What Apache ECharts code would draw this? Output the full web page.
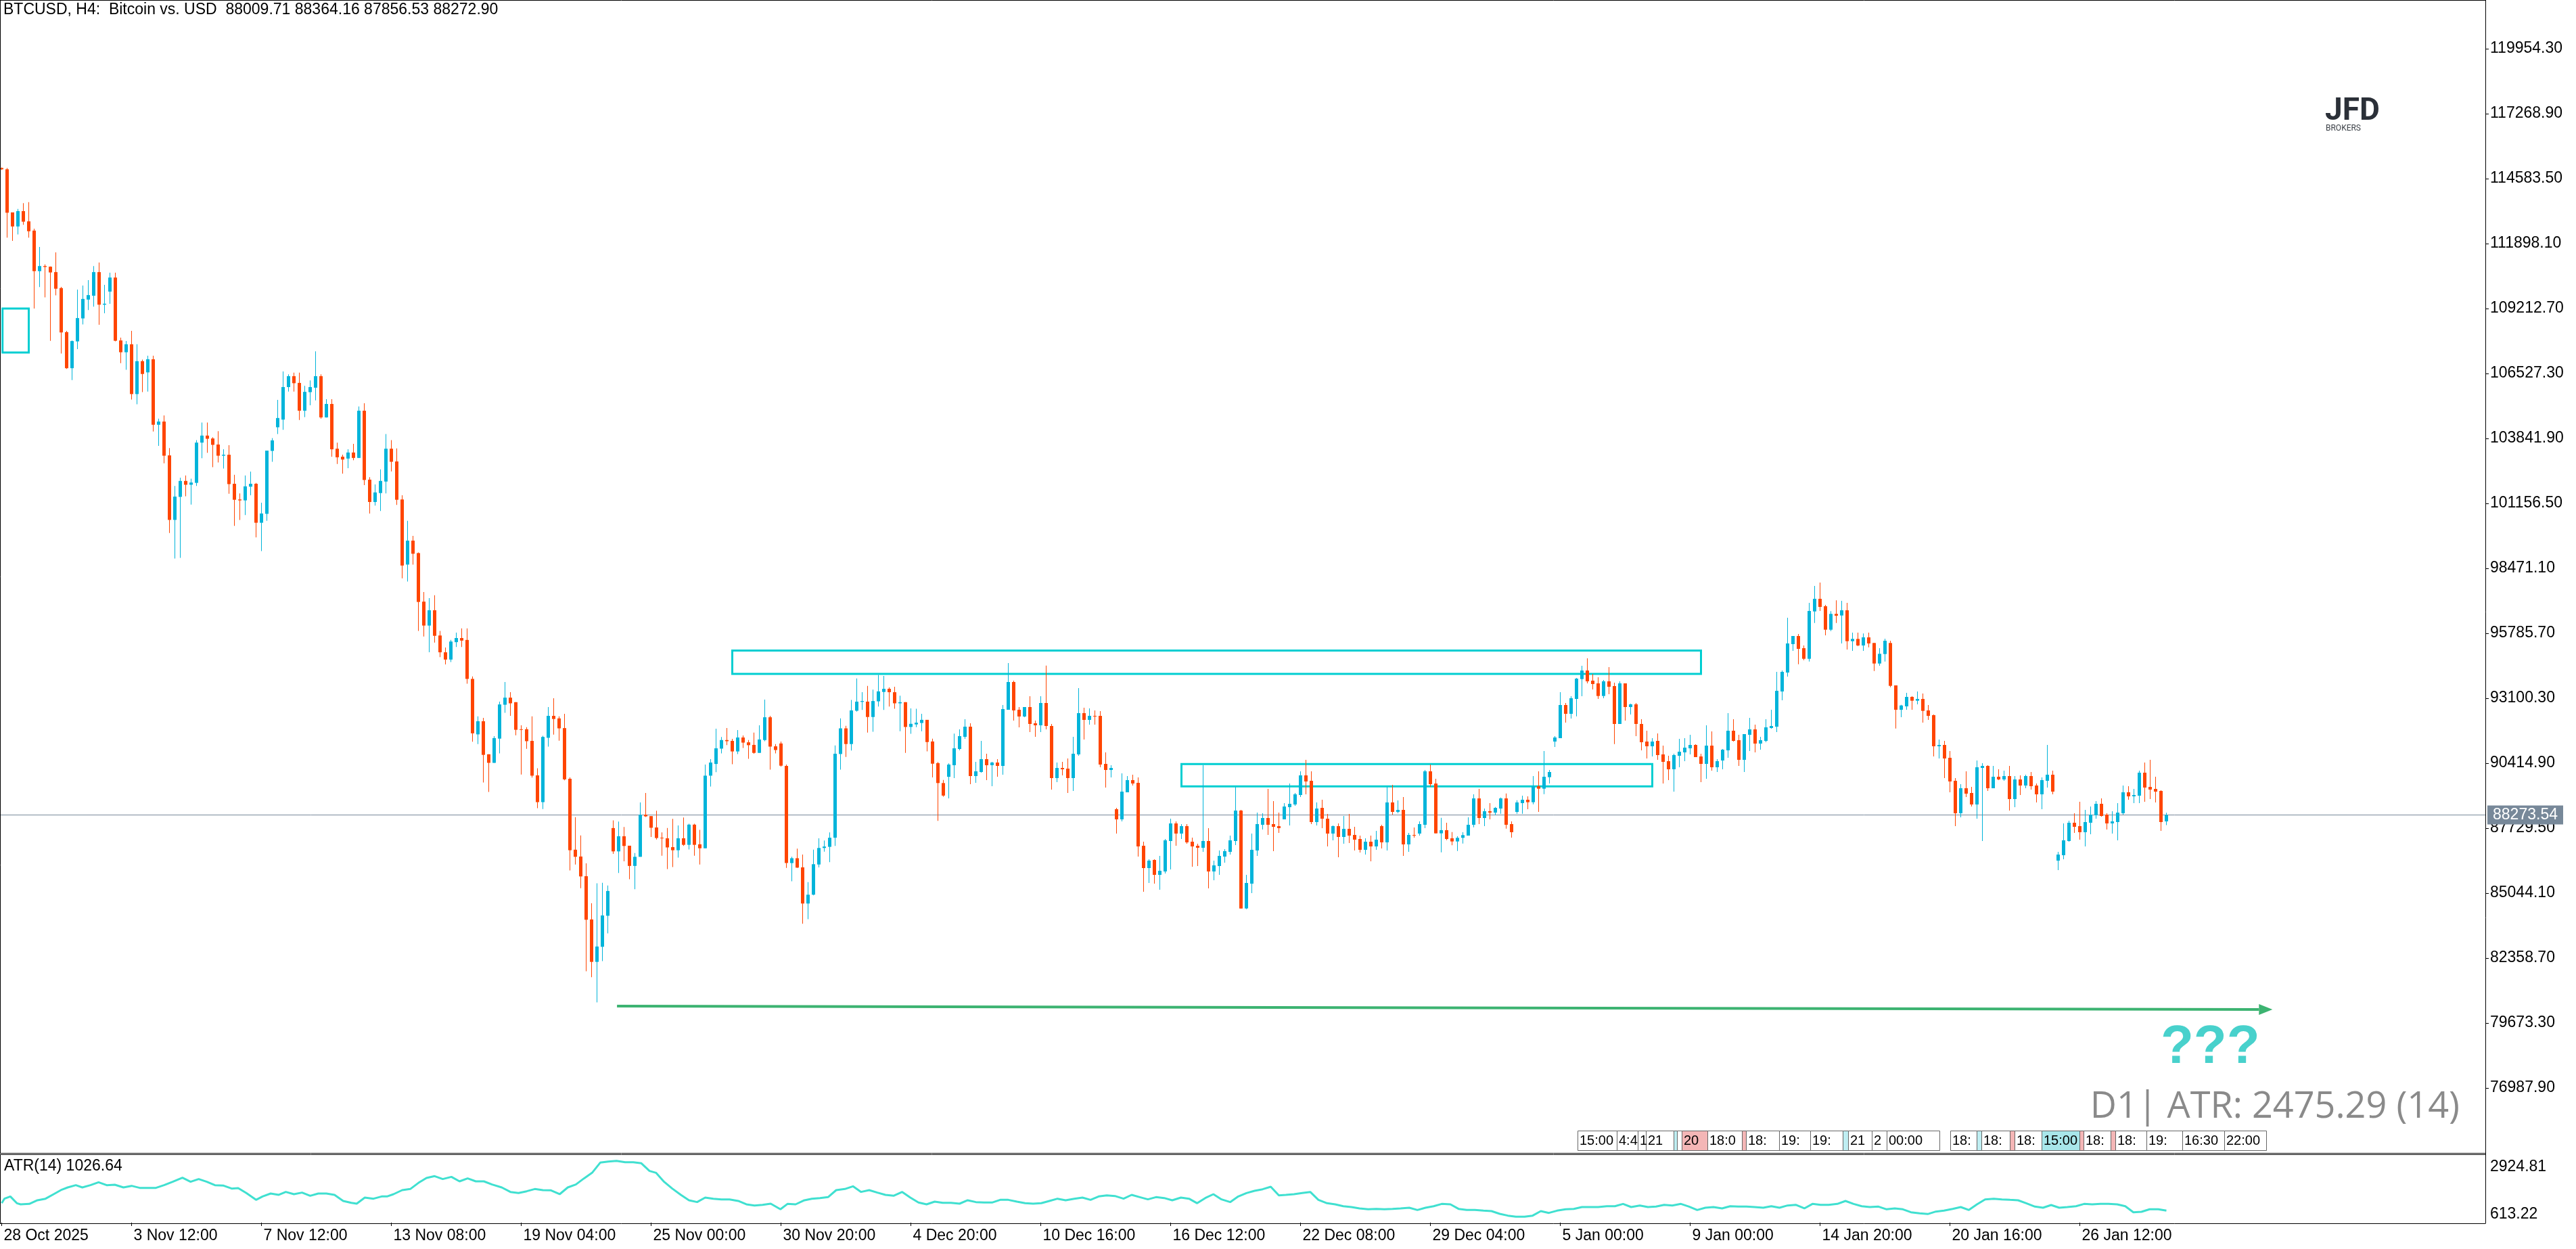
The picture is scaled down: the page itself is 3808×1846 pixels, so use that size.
<!DOCTYPE html>
<html><head><meta charset="utf-8">
<script src="https://cdn.jsdelivr.net/npm/echarts@6.0.0/dist/echarts.min.js"></script>
<style>html,body{margin:0;padding:0;background:#fff;overflow:hidden}#chart{width:3808px;height:1846px}</style>
</head><body><div id="chart"></div>
<script>
// ---------------- DATA ----------------
const O=[115022,114969,113187,112606,113240,112817,112435,110758,110969,110943,
110719,110059,108237,106745,107854,108804,109583,109742,110719,109372,
109913,110494,107893,107405,107735,105676,107036,106573,107115,104408,
104540,103141,100474,101425,102085,101927,102006,103669,103960,103841,
103590,103128,103168,101967,101319,101280,101847,101967,100356,100725,
103326,104303,104620,105966,106415,106138,104989,105755,105940,106415,
104712,105267,103418,103088,103009,103260,103036,104989,102138,101214,
101584,102059,103418,102890,101319,98627,99617,99102,97095,96105,
96739,95695,95000,94700,95419,95590,95511,93900,91607,92149,
90783,90430,91431,92832,93126,92938,91819,91819,91337,89912,
88805,91466,92373,92267,91866,89771,86839,86557,85744,83955,
82201,82825,84108,87734,86769,87393,87004,86168,86545,88287,
88228,87758,87334,87310,86945,86816,87310,87040,87875,87063,
86898,89900,90383,91018,91372,91337,90901,91478,91278,91172,
90842,91372,92314,91113,91231,90301,86286,86486,86109,84614,
84979,86227,86910,86957,87334,90795,91855,91207,92584,92949,
92961,92325,92973,93361,93491,93350,92891,92938,91913,92019,
92078,92208,91313,90418,89594,89853,90331,91002,91506,91925,
89883,90051,90583,90331,90443,90303,92625,93772,92625,92345,
92737,92065,91981,92905,91953,89800,90219,90191,89800,90779,
92485,92205,92373,92373,90387,90135,88513,88093,89212,89716,
89604,87002,86079,86415,85800,85939,87198,87925,87506,87814,
87170,87002,86918,87198,85939,86163,86555,86751,87198,88457,
84410,85436,86807,87870,88149,87898,87814,88093,88597,88709,
89100,89911,89688,87981,88569,88121,87506,87814,87366,87702,
87450,87282,86835,87170,86974,87814,87142,88793,88401,88485,
87058,87450,87506,87870,90079,89576,87515,87646,87310,87180,
87329,87422,87870,88960,88149,88429,88373,88541,88960,87898,
88401,88765,88905,88802,89464,89361,89837,91310,91450,92821,
92457,93072,93893,94247,93828,93716,93194,93800,93604,92037,
93716,92737,92849,92037,91310,91114,91338,90779,90499,90163,
90723,90863,91030,91170,90695,90387,91142,90247,90527,90947,
91758,91366,90555,91590,91814,91226,91338,91870,91926,93380,
94163,95338,95674,95170,94732,96690,97212,96905,95935,96588,
96522,96737,95459,95553,95282,95618,95385,94536,94928,95385,
93632,92625,92765,93156,92998,93072,92597,92401,91114,91170,
90639,89688,88345,89380,89184,88709,90219,90303,89380,89856,
89744,89884,88933,89744,89492,89884,89492,89128,89688,89940,
86387,86611,87198,87954,87814,87562,87954,88261,88737,88289,
87926,87981,88345,89212,89044,89072,90023,89436,89352,89268,
88009.71];
const H=[115048,115022,113187,113332,113570,113610,112514,111761,111035,110956,
111537,110111,108290,107893,109993,110164,110389,110969,111115,110191,
110692,110692,108012,107867,108290,107735,107102,107260,107260,104659,
104791,103445,101874,102217,102310,102178,103775,104501,104501,103894,
104144,103392,103564,102336,101570,102310,102468,102006,101187,103339,
103854,105438,106613,106494,106560,106560,106019,106243,107445,106494,
105465,105465,103669,103168,103392,103617,105161,105293,102243,101940,
102560,104026,103775,103432,101491,100435,99815,99128,97491,97241,
97359,95881,95200,95511,95814,95986,95986,94000,92349,92290,
90783,91537,92961,93774,93350,92938,91984,91902,92349,90206,
91548,92738,93103,92349,92455,89830,88181,87428,86274,84626,
85450,85473,85356,88052,88005,87781,87004,86698,88794,89182,
88228,88452,87557,87734,88111,87840,88170,87911,87911,87663,
90359,90583,91843,91501,91866,91419,91784,91560,91372,91678,
91984,93044,92373,91207,91313,90359,86545,86886,86639,85497,
86839,87310,87216,87557,91148,92267,91961,93032,93915,93350,
93609,93456,94068,94021,93550,93573,93208,92938,92679,92667,
92455,92208,91431,90465,89724,90407,91636,91814,92233,92065,
90471,91338,90807,90471,90583,92821,94555,93828,92737,92737,
93184,92177,93184,94452,92037,90443,90471,90611,91506,93520,
92709,92681,92597,92569,90863,90331,88569,89995,89883,89939,
89828,87170,86443,86443,86583,87282,88121,88009,87898,87898,
87338,87086,90331,87730,86387,86807,86863,87422,89436,88485,
85800,87506,88373,88345,89352,88849,88373,88765,89576,89184,
90079,90555,90079,88793,88904,88317,87842,87925,88233,88317,
87786,87422,87310,87422,87618,87870,89436,89520,88877,89016,
87534,87758,88009,90135,90359,89772,88159,87954,87571,87394,
87562,88177,89128,89352,88541,88765,88606,88998,89166,88008,
88886,89072,89044,89884,90079,90919,90135,91534,93352,92905,
93184,93940,94443,94751,94107,93968,93856,94387,93744,93800,
93716,92877,92905,92233,91758,91450,91646,91142,90723,90807,
91422,91450,91590,91198,90807,91981,91730,90583,91002,92485,
92233,91590,91618,92289,92009,91506,92233,92625,94191,94247,
96429,95674,95758,95282,97044,97744,97884,96961,96699,97147,
97128,97044,95814,95814,95776,95814,95385,95170,95562,95478,
93632,92830,93324,93184,93380,93296,92821,92429,91394,91338,
90919,89800,89548,90079,89436,90527,90415,90331,90303,90163,
90107,90303,89884,89912,89940,90051,89576,89828,91170,90107,
86751,87926,88037,88345,88821,88485,88625,88849,88960,88345,
88429,88765,89492,89464,89352,90107,90443,90555,89856,89296,
88364.16];
const L=[114943,112144,112012,112276,112672,112144,109214,110098,109676,107880,
109755,107352,106719,106257,107537,108554,109148,109293,108540,109016,
109412,107854,106956,106679,105452,105253,105755,105781,104131,103537,
102811,99933,98877,98904,101452,101108,101874,103022,103247,102653,
102851,102600,101557,100224,100474,100672,101491,99749,99181,100435,
102877,104026,104197,105781,105781,104606,104725,105214,105412,104659,
104699,103088,102784,102389,102613,102943,103036,101913,100739,101069,
100844,101570,102481,101095,98059,97927,98627,95881,95656,95000,
95400,94800,94500,94600,95221,95221,93700,91300,91207,89618,
89229,90430,90819,92502,92373,91572,89947,91007,89818,88558,
88523,91101,91596,91348,89712,85980,86227,85250,81812,81565,
80529,82236,83378,86663,85874,86357,85615,85203,86545,88193,
87369,87263,86592,86039,86121,86510,86992,86851,86592,86227,
86898,89453,90042,90819,91160,90371,90795,91042,90595,90807,
90842,91325,90148,90819,90277,86086,85532,86086,83778,83967,
84956,86109,86757,86321,86992,90148,90677,90936,92549,92620,
91678,91713,92761,92620,92761,92667,91737,90842,91631,91902,
91737,90901,89830,88028,89029,88958,89800,90946,91422,89548,
89604,90023,89716,89464,89855,89939,92625,92177,91897,92317,
91702,91506,91702,91814,89324,89632,89911,89184,89268,90723,
91394,92009,92009,90247,89408,89828,87506,88009,89212,89492,
86555,85100,85464,85436,85184,85856,86023,87002,87282,87086,
86135,86163,86751,85240,85576,85800,86303,86639,87030,84410,
84382,85044,86583,87674,87450,86779,87534,88093,87842,88653,
89016,89128,87898,87842,87730,86974,87226,86527,87086,87114,
86807,86723,86639,86359,86835,86891,86807,88289,88345,86583,
86751,87338,87422,87730,89436,87515,86732,87236,87021,86788,
87096,87422,87767,87898,87814,88093,88261,88326,87711,87338,
88326,88326,88513,88718,88401,89138,89576,91086,91450,92093,
92261,92354,93184,93716,93464,93072,93100,93268,91208,92037,
92177,92429,91534,90947,90611,90695,90555,89576,89716,89240,
90247,90499,90779,90667,89632,89772,90107,90051,90163,90639,
91310,90303,90051,90919,90863,90975,91282,91842,91702,93016,
93995,95058,94508,94676,94620,96215,96709,95702,95879,96215,
95366,95114,95058,95254,95058,95208,94229,94443,94620,93557,
91851,92317,92625,92625,92849,92093,92205,90695,90611,89800,
89212,87814,88177,89016,88625,88121,87198,89268,89380,89716,
89688,88457,88597,89100,89380,89324,88793,88513,89408,89128,
85995,86443,87170,87534,87254,86975,87478,88121,88205,87674,
87506,87226,88289,88905,88765,88765,88821,88933,88793,87618,
87856.53];
const C=[114969,113174,112606,113240,112804,112408,110758,110969,110930,110705,
110032,108224,106745,107867,108818,109610,109768,110719,109372,109412,
110494,107880,107405,107735,105676,107036,106507,107115,104408,104540,
103128,100474,101438,102085,101927,102019,103669,103960,103828,103577,
103128,103168,101953,101306,101280,101861,101967,100356,100739,103339,
103762,104686,105966,106415,106125,104989,105768,105966,106415,104712,
105267,103392,103062,102969,103260,103036,104989,102125,101214,101610,
102085,103418,102877,101306,98587,99617,99075,97082,96105,96739,
95682,95000,94700,95445,95590,95484,93900,91650,92149,90760,
90430,91454,92844,93126,92891,91796,91796,91325,89900,88805,
91501,92373,92243,91855,89747,86816,86545,85733,83943,82201,
82836,84120,85132,86769,87393,86992,86168,86545,88287,88217,
87746,87322,87310,86933,86816,87310,87040,87875,87040,86898,
89900,90442,91030,91372,91325,90901,91478,91266,91160,90842,
91395,92314,91101,90960,90312,86286,86486,86098,84614,84979,
86239,86910,86969,87334,90807,91855,91207,92596,92961,92985,
92325,92985,93385,93491,93350,92891,92938,91913,92043,92090,
92208,91289,90395,89594,89076,90359,91030,91534,91925,89883,
90079,90583,90331,90443,90303,92653,93772,92597,92345,92737,
92037,91981,92905,91953,89800,90219,90163,89800,90807,92485,
92205,92373,92345,90359,90135,90219,88093,89240,89716,89576,
86974,86079,86387,85800,85967,87226,87925,87506,87814,87142,
86974,86918,87198,85939,86191,86583,86779,87226,88457,84410,
85464,86835,87898,88149,87870,87786,87730,88625,88737,89128,
89911,89660,87981,88541,88121,87506,87814,87366,87702,87422,
87254,86835,87170,86974,87254,87142,88793,88401,88485,87058,
87450,87422,87898,90079,89548,87515,87646,87282,87180,87329,
87441,87870,88960,88149,88429,88373,88569,88960,87870,87562,
88793,88905,88802,89464,89361,89856,90051,91478,92821,92457,
93100,93912,94247,93800,93688,93194,93800,93576,92037,93716,
92737,92849,92037,91282,91114,91310,90751,90471,90163,90751,
90891,91058,91170,90667,90387,91142,90247,90499,90975,91758,
91338,90555,91618,91814,91226,91366,91898,91954,93408,94191,
95366,95674,95142,94732,96709,97212,96877,95935,96588,96513,
96737,95459,95553,95282,95618,95366,94536,94937,95478,93613,
92625,92802,93156,92998,93072,92578,92373,91114,91170,90611,
89660,88345,89380,89156,88709,90247,90303,89380,89856,89744,
89884,88933,89744,89492,89884,89464,89128,89716,89940,89240,
86639,87226,87954,87786,87562,87981,88289,88737,88233,87926,
88009,88373,89212,89044,89100,90023,89408,89324,89240,87981,
88272.90];

const xTickBars=[0,24,48,72,96,120,144,168,192,216,240,264,288,312,336,360,384];
const xTickLabels=['28 Oct 2025','3 Nov 12:00','7 Nov 12:00','13 Nov 08:00','19 Nov 04:00','25 Nov 00:00','30 Nov 20:00','4 Dec 20:00','10 Dec 16:00','16 Dec 12:00','22 Dec 08:00','29 Dec 04:00','5 Jan 00:00','9 Jan 00:00','14 Jan 20:00','20 Jan 16:00','26 Jan 12:00'];
const yTickValues=[76987.90,79673.30,82358.70,85044.10,87729.50,90414.90,93100.30,95785.70,98471.10,101156.50,103841.90,106527.30,109212.70,111898.10,114583.50,117268.90,119954.30];
const atrScaleLabels=[2924.81,613.22];

const atrBar=[0,0.5,1.6,2.8,3.5,5.1,6.6,8.1,9.6,11.1,12.2,13.7,14.9,16.4,17.9,19.4,20.9,22.5,24.0,25.5,27.0,28.5,30.0,31.6,33.4,34.9,36.4,37.9,39.4,41.0,42.5,43.7,45.2,47.0,48.2,49.7,51.2,52.5,54.0,55.5,57.0,58.5,60.0,61.5,63.1,64.6,65.6,67.1,68.7,70.2,71.2,72.4,74.0,75.5,77.0,78.5,80.0,81.5,83.1,84.6,86.1,87.6,89.1,90.6,92.4,94.0,95.5,97.0,98.5,100.0,101.5,103.1,104.6,106.1,107.6,109.1,110.6,112.1,113.6,115.2,116.7,118.2,119.7,120.9,122.4,123.9,125.5,127.0,128.5,130.0,131.5,133.0,134.5,136.1,137.6,139.1,140.6,142.1,143.9,145.2,146.7,148.2,149.7,151.2,152.7,154.2,155.8,157.3,158.8,160.3,161.8,163.3,164.8,166.4,167.9,169.4,170.9,172.4,173.9,175.4,177.0,178.5,180.0,181.5,183.0,184.5,186.0,187.6,189.1,190.6,192.1,193.6,195.1,196.6,198.2,199.7,201.2,202.7,204.2,205.7,207.3,208.8,210.3,211.8,213.3,214.8,216.3,217.9,219.4,220.9,222.4,223.9,225.4,227.0,228.5,230.0,231.5,233.0,234.5,236.0,237.3,238.8,240.3,241.8,243.3,244.9,246.4,247.9,249.4,250.9,252.5,254.0,255.5,257.0,258.5,260.1,261.6,263.1,264.6,266.1,267.7,269.2,270.7,272.2,273.8,275.3,276.8,278.3,279.8,281.4,282.9,284.4,285.9,287.4,289.0,290.5,292.0,293.5,295.0,296.6,298.1,299.6,301.1,302.7,304.2,305.7,307.2,308.7,310.3,311.8,313.3,314.8,316.3,317.9,319.4,320.9,322.4,323.9,325.5,327.0,328.5,330.0,331.5,333.1,334.6,336.1,337.6,339.2,340.7,342.2,343.7,345.2,346.8,348.3,349.8,351.3,352.8,354.4,355.9,357.4,358.9,360.5,362.0,363.5,365.0,366.5,368.1,369.6,371.1,372.6,374.1,375.7,377.2,378.7,380.2,381.7,383.3,384.8,386.3,387.8,389.3,390.9,392.4,393.9,395.4,396.9,398.5,400];
const atrVal=[1283,1438,1516,1283,1244,1259,1384,1438,1594,1750,1827,1905,1827,1905,2007,1905,1921,1827,1882,1812,1812,1812,1905,2022,2162,2022,2116,2022,1905,1890,1789,1804,1633,1399,1516,1617,1571,1672,1594,1649,1539,1617,1617,1571,1361,1298,1267,1477,1438,1516,1516,1594,1734,1773,1983,2154,2217,2116,2193,2038,2139,2038,2038,1929,1827,1672,1633,1695,1773,1734,1726,1594,1827,1929,2139,2333,2684,2723,2746,2699,2699,2660,2396,2333,2022,1789,1571,1384,1322,1477,1438,1415,1415,1361,1244,1205,1228,1267,1073,1259,1244,1376,1438,1462,1493,1734,1773,1866,1672,1734,1649,1571,1539,1672,1477,1306,1244,1337,1298,1298,1267,1384,1322,1306,1306,1399,1399,1337,1283,1267,1283,1361,1438,1384,1438,1477,1399,1516,1555,1532,1438,1571,1493,1415,1493,1462,1384,1477,1438,1283,1462,1594,1415,1322,1516,1633,1711,1765,1851,1555,1571,1594,1633,1672,1399,1283,1244,1181,1150,1104,1073,1088,1073,1088,1104,1127,1049,1127,1181,1259,1244,1088,1049,1049,1026,1010,917,855,816,816,855,1010,948,1026,1073,1088,1150,1150,1150,1181,1181,1259,1150,1205,1150,1166,1228,1205,1259,1166,1049,1127,1150,1104,1181,1166,1166,1150,1127,1181,1127,1205,1228,1104,1259,1228,1228,1259,1361,1259,1181,1150,1166,1073,1104,1073,971,932,909,995,1026,1088,1150,1049,1244,1415,1438,1415,1399,1384,1283,1166,1127,1220,1127,1150,1181,1259,1244,1259,1259,1244,1181,971,987,1073,1073,1026.64];

// drawn objects (bar index / price)
const zones=[[0.15,109212.7,5.0,107394],[135.0,95072,314.0,94107],[218.0,90378,305.0,89455]];
const arrowLine=[113.7,80375,419.6,80232];
const bidPrice=88273.54;
// event strip: [left, right, text, background]
const events=[[2332,2390,'15:00',''],[2390,2421,'4:4',''],[2421,2433,'1',''],[2433,2474,'21',''],[2474,2479,'','#bfeef2'],[2479,2486,'',''],[2486,2524,'20','#f4b6b6'],[2524,2575,'18:0',''],[2575,2581,'','#f4b6b6'],[2581,2630,'18:',''],[2630,2676,'19:',''],[2676,2724,'19:',''],[2724,2732,'','#bfeef2'],[2732,2767,'21',''],[2767,2789,'2',''],[2789,2867,'00:00',''],
[2883,2922,'18:',''],[2922,2929,'','#bfeef2'],[2929,2971,'18:',''],[2971,2978,'','#f4b6b6'],[2978,3018,'18:',''],[3018,3074,'15:00','#a8e6ea'],[3074,3080,'','#f4b6b6'],[3080,3120,'18:',''],[3120,3127,'','#f4b6b6'],[3127,3173,'18:',''],[3173,3226,'19:',''],[3226,3288,'16:30',''],[3288,3350,'22:00','']];

// ---------------- CHART ----------------
const FONT='"Liberation Sans", Arial, sans-serif';
const BULL='#00B4DA', BEAR='#FF4500';
const X_MIN=-0.3125, X_MAX=458.9375;
const AXIS_X=3674;
const chart=echarts.init(document.getElementById('chart'),null,{renderer:'canvas'});

const candleData=O.map((o,i)=>[i,o,C[i],L[i],H[i]]);

const option={
  animation:false,
  backgroundColor:'#ffffff',
  grid:[
    {left:0,top:0,width:AXIS_X,height:1704,containLabel:false},
    {left:0,top:1708,width:AXIS_X,height:99,containLabel:false}
  ],
  xAxis:[
    {type:'value',gridIndex:0,min:X_MIN,max:X_MAX,show:false,axisLine:{onZero:false}},
    {type:'value',gridIndex:1,min:X_MIN,max:X_MAX,position:'bottom',
     axisLine:{show:false,onZero:false},splitLine:{show:false},
     axisTick:{show:true,customValues:xTickBars,length:5,lineStyle:{color:'#000',width:1}},
     axisLabel:{show:true,customValues:xTickBars,formatter:v=>xTickLabels[Math.round(v/24)],
       align:'left',color:'#000',fontFamily:FONT,fontSize:23,margin:8,padding:[0,0,0,3]}}
  ],
  yAxis:[
    {type:'value',gridIndex:0,position:'right',min:74302.4,max:121968.4,
     splitLine:{show:false},axisLine:{show:false,onZero:false},
     axisTick:{show:true,customValues:yTickValues,length:5,lineStyle:{color:'#000'}},
     axisLabel:{show:true,customValues:yTickValues,formatter:v=>v.toFixed(2),color:'#000',fontFamily:FONT,fontSize:23,margin:7}},
    {type:'value',gridIndex:1,position:'right',min:613.22,max:2924.81,
     splitLine:{show:false},axisLine:{show:false,onZero:false},axisTick:{show:false},axisLabel:{show:false}}
  ],
  series:[
    {type:'custom',name:'zones',xAxisIndex:0,yAxisIndex:0,z:1,clip:false,silent:true,
     data:zones,
     renderItem:(p,api)=>{
       const a=api.coord([api.value(0),api.value(1)]),b=api.coord([api.value(2),api.value(3)]);
       return {type:'rect',shape:{x:a[0],y:a[1],width:b[0]-a[0],height:b[1]-a[1]},
               style:{fill:null,stroke:'#00CED1',lineWidth:3}};
     }},
    {type:'line',name:'bid',xAxisIndex:0,yAxisIndex:0,z:1,silent:true,symbol:'none',
     data:[[X_MIN,bidPrice],[X_MAX,bidPrice]],lineStyle:{color:'#778899',width:1}},
    {type:'custom',name:'candles',xAxisIndex:0,yAxisIndex:0,z:3,clip:true,
     data:candleData,encode:{x:0,y:[1,2,3,4]},
     renderItem:(p,api)=>{
       const i=api.value(0),o=api.value(1),c=api.value(2),l=api.value(3),h=api.value(4);
       const po=api.coord([i,o]),pc=api.coord([i,c]),pl=api.coord([i,l]),ph=api.coord([i,h]);
       const x=po[0];const col=c>=o?BULL:BEAR;
       const top=Math.min(po[1],pc[1]);let bh=Math.abs(po[1]-pc[1]);if(bh<1)bh=1;
       return {type:'group',children:[
         {type:'rect',shape:{x:x-0.5,y:ph[1],width:1,height:Math.max(1,pl[1]-ph[1])},style:{fill:col}},
         {type:'rect',shape:{x:x-2.5,y:top,width:5,height:bh},style:{fill:col}}
       ]};
     }},
    {type:'custom',name:'arrow',xAxisIndex:0,yAxisIndex:0,z:4,clip:false,silent:true,
     data:[arrowLine],
     renderItem:(p,api)=>{
       const a=api.coord([api.value(0),api.value(1)]),b=api.coord([api.value(2),api.value(3)]);
       const ang=Math.atan2(b[1]-a[1],b[0]-a[0]);const len=20,hw=8;
       const bx=b[0]-len*Math.cos(ang),by=b[1]-len*Math.sin(ang);
       const nx=-Math.sin(ang)*hw,ny=Math.cos(ang)*hw;
       return {type:'group',children:[
         {type:'line',shape:{x1:a[0],y1:a[1],x2:bx,y2:by},style:{stroke:'#3CB371',lineWidth:4}},
         {type:'polygon',shape:{points:[[b[0],b[1]],[bx+nx,by+ny],[bx-nx,by-ny]]},style:{fill:'#3CB371'}}
       ]};
     }},
    {type:'line',name:'ATR(14)',xAxisIndex:1,yAxisIndex:1,symbol:'none',z:3,
     data:atrBar.map((b,k)=>[b,atrVal[k]]),lineStyle:{color:'#40E0D0',width:3}}
  ]
};
chart.setOption(option);

const bidY=chart.convertToPixel({yAxisIndex:0},bidPrice);
const ln=(x1,y1,x2,y2)=>({type:'line',z:20,silent:true,shape:{x1,y1,x2,y2},style:{stroke:'#000',lineWidth:1}});
const g=[
  ln(0,0.5,AXIS_X,0.5), ln(0.5,0,0.5,1704.5), ln(0,1704.5,AXIS_X,1704.5),
  ln(0,1706.5,AXIS_X,1706.5), ln(0.5,1706.5,0.5,1808.5), ln(0,1808.5,AXIS_X,1808.5),
  ln(AXIS_X+0.5,0,AXIS_X+0.5,1808.5),
  {type:'text',z:20,x:5,y:15,style:{text:'BTCUSD, H4:  Bitcoin vs. USD  88009.71 88364.16 87856.53 88272.90',font:'23px '+FONT,fill:'#000',verticalAlign:'middle'}},
  {type:'text',z:20,x:6,y:1724,style:{text:'ATR(14) 1026.64',font:'23px '+FONT,fill:'#000',verticalAlign:'middle'}},
  {type:'text',z:20,x:3681,y:1725,style:{text:atrScaleLabels[0].toFixed(2),font:'23px '+FONT,fill:'#000',verticalAlign:'middle'}},
  {type:'text',z:20,x:3681,y:1795,style:{text:atrScaleLabels[1].toFixed(2),font:'23px '+FONT,fill:'#000',verticalAlign:'middle'}},
  {type:'rect',z:21,shape:{x:3677,y:bidY-14,width:112,height:28},style:{fill:'#778899'}},
  {type:'text',z:22,x:3733,y:bidY,style:{text:bidPrice.toFixed(2),font:'23px '+FONT,fill:'#fff',align:'center',verticalAlign:'middle'}},
  {type:'text',z:20,x:3194,y:1549,style:{text:'???',font:'bold 80px '+FONT,fill:'#48D1CC',verticalAlign:'middle'}},
  {type:'text',z:20,x:3636,y:1637,style:{text:'D1| ATR: 2475.29 (14)',font:'54px "Open Sans", "Noto Sans", sans-serif',fill:'#8a8a8a',align:'right',verticalAlign:'middle'}},
  {type:'text',z:20,x:3437,y:165,style:{text:'JFD',font:'bold 46px Roboto, sans-serif',fill:'#2B3038',verticalAlign:'middle'}},
  {type:'text',z:20,x:3438,y:190,style:{text:'BROKERS',font:'12px Roboto, sans-serif',fill:'#3a3f46',verticalAlign:'middle',letterSpacing:3.5}}
];
events.forEach(e=>{
  g.push({type:'rect',z:20,silent:true,shape:{x:e[0]+0.5,y:1671.5,width:e[1]-e[0],height:29},
    style:{fill:e[3]||'#ffffff',stroke:'#666',lineWidth:1}});
  if(e[2]) g.push({type:'text',z:21,silent:true,x:e[0]+3,y:1686,style:{text:e[2],font:'20px '+FONT,fill:'#000',verticalAlign:'middle'}});
});
chart.setOption({graphic:g});
</script></body></html>
